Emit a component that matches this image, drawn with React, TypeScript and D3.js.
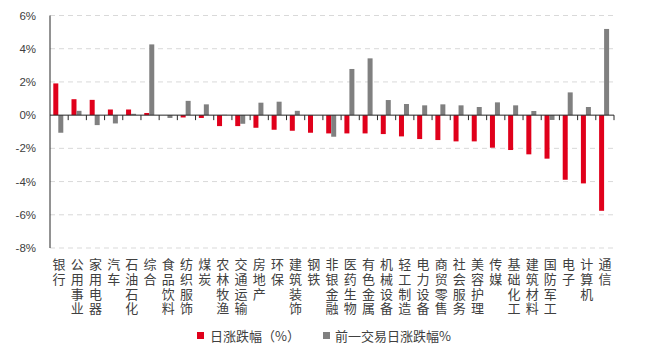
import React from "react";
import * as d3 from "d3";

const categories = ["银行","公用事业","家用电器","汽车","石油石化","综合","食品饮料","纺织服饰","煤炭","农林牧渔","交通运输","房地产","环保","建筑装饰","钢铁","非银金融","医药生物","有色金属","机械设备","轻工制造","电力设备","商贸零售","社会服务","美容护理","传媒","基础化工","建筑材料","国防军工","电子","计算机","通信"];
const dailyChange = [1.91,0.96,0.92,0.34,0.34,0.13,0.0,-0.14,-0.17,-0.66,-0.66,-0.76,-0.88,-0.94,-1.06,-1.1,-1.1,-1.1,-1.14,-1.28,-1.44,-1.5,-1.58,-1.58,-1.96,-2.1,-2.36,-2.62,-3.89,-4.11,-5.76];
const prevChange = [-1.06,0.26,-0.6,-0.5,0.08,4.26,-0.17,0.86,0.65,0.02,-0.52,0.75,0.81,0.26,0.0,-1.3,2.78,3.42,0.91,0.67,0.59,0.65,0.59,0.49,0.77,0.59,0.25,-0.29,1.37,0.49,5.19];
const yTicks = [6,4,2,0,-2,-4,-6,-8];
const legendLabels = ["日涨跌幅（%）","前一交易日涨跌幅%"];

const RED = "#e0001b";
const GRAY = "#808080";
const TEXT = "#404040";
const FONT = "'Noto Sans CJK SC', 'Liberation Sans', sans-serif";

export default function App() {
  const W = 647, H = 359;
  const x = d3.scaleBand<string>().domain(categories).range([50, 614]).paddingInner(0).paddingOuter(0);
  const y = d3.scaleLinear().domain([-8, 6]).range([248, 15.5]);
  const bw = 5;
  const off = -0.8;
  const y0 = y(0);
  return (
    <svg width={W} height={H} style={{ position: "absolute", left: 0, top: 0, background: "#fff" }} fontFamily={FONT}>
      {yTicks.map((t) => (
        <g key={t}>
          {t !== 0 && (
            <line x1={50} x2={614} y1={y(t)} y2={y(t)} stroke="#d9d9d9" strokeWidth={1} strokeDasharray="5,4" />
          )}
          <text x={36} y={y(t)} dy="0.36em" textAnchor="end" fontSize={11.5} fill={TEXT} fontFamily="'Liberation Sans', Arial, sans-serif">
            {`${t}%`}
          </text>
        </g>
      ))}
      {categories.map((c, i) => {
        const cx = (x(c) as number) + x.bandwidth() / 2 + off;
        const v1 = dailyChange[i];
        const v2 = prevChange[i];
        return (
          <g key={c}>
            <rect x={cx - bw} width={bw} y={Math.min(y(v1), y0)} height={Math.abs(y(v1) - y0)} fill={RED} />
            <rect x={cx} width={bw} y={Math.min(y(v2), y0)} height={Math.abs(y(v2) - y0)} fill={GRAY} />
          </g>
        );
      })}
      <line x1={50} x2={614} y1={y0} y2={y0} stroke="#262626" strokeWidth={1} />
      {categories.map((c, i) => (
        <line key={"t" + i} x1={(x(c) as number) + x.bandwidth()} x2={(x(c) as number) + x.bandwidth()} y1={y0} y2={y0 + 5} stroke="#262626" strokeWidth={1} />
      ))}
      <line x1={50} x2={50} y1={15.5} y2={248} stroke="#262626" strokeWidth={1} />
      {categories.map((c) => {
        const cx = (x(c) as number) + x.bandwidth() / 2;
        return (
          <text key={"l" + c} x={cx} y={257.5} fontSize={13} fill={TEXT}
            style={{ writingMode: "vertical-rl", letterSpacing: "1.8px" } as any}>
            {c}
          </text>
        );
      })}
      <rect x={197} y={332} width={7} height={7} fill={RED} />
      <text x={210} y={340.5} fontSize={13} fill={TEXT}>{legendLabels[0]}</text>
      <rect x={323} y={332} width={7} height={7} fill={GRAY} />
      <text x={335} y={340.5} fontSize={13} fill={TEXT}>{legendLabels[1]}</text>
    </svg>
  );
}
